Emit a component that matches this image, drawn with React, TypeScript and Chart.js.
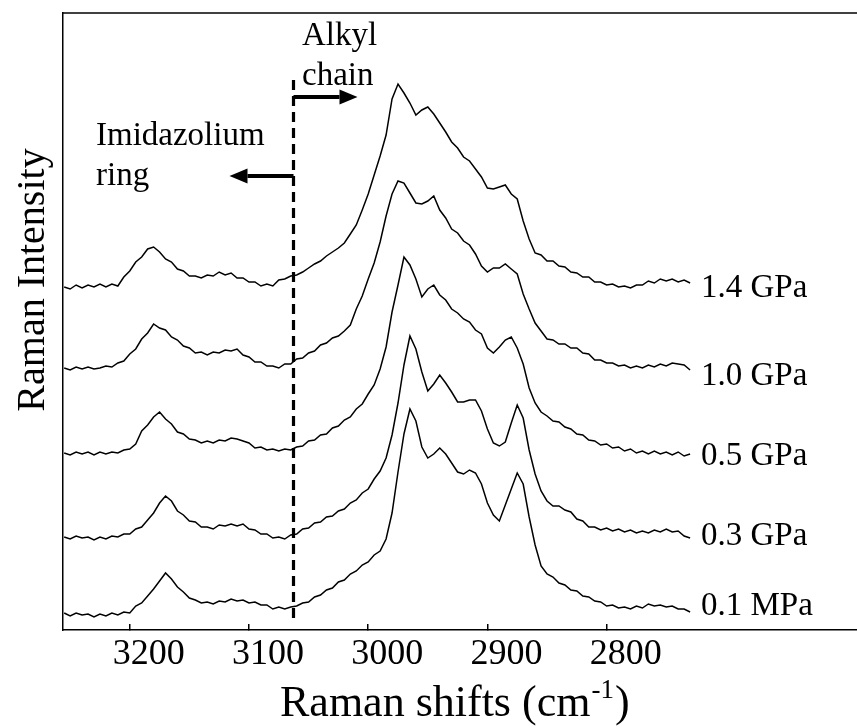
import React, { useEffect, useRef } from "react";
import { Chart, registerables } from "chart.js";

Chart.register(...registerables);

// Raman shift grid (cm-1), shared by every spectrum
const shifts = [
  3255, 3250, 3245, 3240, 3235, 3230, 3225, 3220, 3215, 3210,
  3205, 3200, 3195, 3190, 3185, 3180, 3175, 3170, 3165, 3160,
  3155, 3150, 3145, 3140, 3135, 3130, 3125, 3120, 3115, 3110,
  3105, 3100, 3095, 3090, 3085, 3080, 3075, 3070, 3065, 3060,
  3055, 3050, 3045, 3040, 3035, 3030, 3025, 3020, 3015, 3010,
  3005, 3000, 2995, 2990, 2985, 2980, 2975, 2970, 2965, 2960,
  2955, 2950, 2945, 2940, 2935, 2930, 2925, 2920, 2915, 2910,
  2905, 2900, 2895, 2890, 2885, 2880, 2875, 2870, 2865, 2860,
  2855, 2850, 2845, 2840, 2835, 2830, 2825, 2820, 2815, 2810,
  2805, 2800, 2795, 2790, 2785, 2780, 2775, 2770, 2765, 2760,
  2755, 2750, 2745, 2740, 2735, 2730,
];

// Stacked spectra (arbitrary intensity units, vertically offset)
const intensity14GPa = [
  343, 341, 345, 342, 345, 343, 346, 343, 346, 344,
  353, 359, 368, 373, 381, 383, 378, 371, 368, 361,
  359, 354, 354, 352, 355, 354, 358, 355, 357, 352,
  352, 348, 348, 344, 346, 344, 350, 351, 354, 355,
  358, 362, 366, 369, 374, 378, 382, 387, 396, 405,
  420, 436, 455, 474, 495, 531, 546, 537, 527, 515,
  520, 523, 516, 507, 498, 488, 482, 473, 469, 461,
  453, 442, 441, 443, 445, 436, 431, 409, 391, 377,
  375, 369, 369, 364, 363, 358, 357, 353, 353, 348,
  348, 345, 346, 343, 344, 342, 345, 345, 349, 347,
  351, 349, 351, 348, 350, 347,
];

const intensity10GPa = [
  262, 260, 263, 261, 263, 261, 262, 264, 263, 267,
  269, 276, 281, 291, 297, 306, 302, 300, 293, 290,
  284, 282, 277, 278, 275, 278, 277, 280, 279, 281,
  275, 273, 268, 268, 264, 264, 262, 266, 266, 271,
  272, 277, 279, 285, 287, 292, 294, 299, 305, 321,
  334, 351, 367, 388, 414, 436, 449, 447, 437, 427,
  426, 429, 434, 420, 412, 401, 397, 389, 385, 376,
  364, 358, 362, 362, 366, 361, 356, 336, 321, 307,
  299, 291, 290, 286, 286, 282, 282, 277, 276, 270,
  270, 267, 267, 264, 265, 262, 264, 262, 265, 263,
  266, 264, 267, 266, 265, 260,
];

const intensity05GPa = [
  177, 175, 178, 176, 178, 175, 178, 176, 178, 177,
  180, 181, 186, 199, 205, 213, 218, 211, 206, 198,
  196, 191, 190, 187, 189, 187, 190, 189, 192, 191,
  189, 187, 182, 183, 180, 181, 179, 181, 180, 183,
  184, 189, 190, 195, 196, 202, 204, 210, 213, 221,
  226, 236, 245, 261, 283, 318, 345, 373, 365, 351,
  333, 341, 345, 335, 330, 321, 317, 311, 308, 300,
  296, 282, 277, 283, 290, 293, 282, 266, 242, 227,
  218, 214, 209, 208, 203, 201, 196, 195, 190, 189,
  185, 186, 182, 183, 179, 181, 177, 179, 176, 179,
  176, 178, 175, 178, 174, 176,
];

const intensity03GPa = [
  93, 91, 94, 92, 93, 90, 93, 91, 94, 93,
  96, 96, 101, 103, 110, 117, 127, 134, 129, 119,
  115, 109, 108, 103, 103, 101, 105, 104, 106, 104,
  106, 101, 100, 96, 96, 92, 93, 91, 95, 96,
  101, 102, 107, 108, 113, 114, 119, 121, 127, 130,
  137, 141, 151, 159, 172, 195, 227, 265, 294, 281,
  258, 239, 246, 255, 247, 238, 228, 228, 230, 230,
  219, 201, 187, 184, 188, 207, 225, 212, 180, 156,
  139, 129, 124, 124, 120, 118, 111, 109, 103, 103,
  100, 102, 99, 101, 98, 100, 97, 99, 97, 100,
  98, 101, 98, 99, 94, 92,
];

const intensity01MPa = [
  17, 14, 17, 15, 16, 13, 16, 14, 17, 15,
  18, 17, 24, 27, 34, 41, 49, 57, 51, 43,
  38, 32, 30, 27, 28, 26, 29, 28, 31, 29,
  30, 27, 28, 25, 25, 21, 23, 21, 23, 24,
  27, 28, 33, 35, 40, 42, 48, 50, 56, 59,
  65, 68, 75, 79, 91, 117, 158, 196, 221, 209,
  183, 172, 176, 182, 176, 167, 158, 156, 160, 157,
  146, 127, 115, 109, 125, 141, 157, 146, 113, 85,
  64, 56, 53, 47, 45, 40, 39, 34, 33, 29,
  28, 24, 25, 22, 23, 21, 24, 22, 26, 24,
  25, 23, 24, 21, 21, 18,
];

const seriesValues = [intensity14GPa, intensity10GPa, intensity05GPa, intensity03GPa, intensity01MPa];
const seriesLabels = ["1.4 GPa", "1.0 GPa", "0.5 GPa", "0.3 GPa", "0.1 MPa"];
const tickValues = [3200, 3100, 3000, 2900, 2800];
const dividerShift = 3063;

const SERIF = '"Liberation Serif", "Times New Roman", serif';
const labelBaselines = [297, 385, 465, 545, 615];

function drawArrow(ctx: CanvasRenderingContext2D, x0: number, tip: number, y: number) {
  const dir = tip > x0 ? 1 : -1;
  const headLen = 18;
  const half = 7.5;
  ctx.lineWidth = 4;
  ctx.beginPath();
  ctx.moveTo(x0, y);
  ctx.lineTo(tip - dir * headLen, y);
  ctx.stroke();
  ctx.beginPath();
  ctx.moveTo(tip, y);
  ctx.lineTo(tip - dir * headLen, y - half);
  ctx.lineTo(tip - dir * headLen, y + half);
  ctx.closePath();
  ctx.fill();
}

const overlayPlugin = {
  id: "ramanOverlay",
  afterDraw(chart: any) {
    const { ctx, chartArea, scales } = chart;
    const xs = scales.x;
    ctx.save();
    ctx.strokeStyle = "#000";
    ctx.fillStyle = "#000";

    // top frame line
    ctx.lineWidth = 1.5;
    ctx.beginPath();
    ctx.moveTo(chartArea.left, chartArea.top);
    ctx.lineTo(chartArea.right, chartArea.top);
    ctx.stroke();

    // boundary between ring and alkyl chain regions
    const dx = Math.round(xs.getPixelForValue(dividerShift)) + 0.5;
    ctx.setLineDash([10, 6]);
    ctx.lineWidth = 3.2;
    ctx.beginPath();
    ctx.moveTo(dx, 80);
    ctx.lineTo(dx, 622);
    ctx.stroke();
    ctx.setLineDash([]);

    drawArrow(ctx, dx, dx + 64, 97);
    drawArrow(ctx, dx, dx - 64, 176);

    ctx.textAlign = "left";
    ctx.textBaseline = "alphabetic";
    ctx.font = `33px ${SERIF}`;
    ctx.fillText("Alkyl", 302, 45);
    ctx.fillText("chain", 302, 85);
    ctx.fillText("Imidazolium", 96, 145);
    ctx.fillText("ring", 96, 185);

    seriesLabels.forEach((label, i) => {
      ctx.fillText(label, 701, labelBaselines[i]);
    });

    // y axis title
    ctx.save();
    ctx.translate(44, 280);
    ctx.rotate(-Math.PI / 2);
    ctx.textAlign = "center";
    ctx.font = `40px ${SERIF}`;
    ctx.fillText("Raman Intensity", 0, 0);
    ctx.restore();

    // x axis title with superscript
    ctx.textAlign = "left";
    const base = "Raman shifts (cm";
    ctx.font = `44px ${SERIF}`;
    let x = 280;
    const y = 716;
    ctx.fillText(base, x, y);
    x += ctx.measureText(base).width;
    ctx.font = `27px ${SERIF}`;
    ctx.fillText("-1", x + 1, y - 18);
    x += ctx.measureText("-1").width + 2;
    ctx.font = `44px ${SERIF}`;
    ctx.fillText(")", x, y);

    ctx.restore();
  },
};

export default function App() {
  const canvasRef = useRef<HTMLCanvasElement | null>(null);

  useEffect(() => {
    const canvas = canvasRef.current;
    if (!canvas) return;
    const chart = new Chart(canvas, {
      type: "line",
      data: {
        labels: shifts,
        datasets: seriesValues.map((vals, i) => ({
          label: seriesLabels[i],
          data: vals.map((v, j) => ({ x: shifts[j], y: v })),
          borderColor: "#000",
          borderWidth: 1.5,
          pointRadius: 0,
          tension: 0,
          fill: false,
        })),
      },
      options: {
        animation: false,
        responsive: false,
        maintainAspectRatio: false,
        parsing: false,
        layout: { padding: { top: 13, left: 0, right: 0, bottom: 0 } },
        plugins: {
          legend: { display: false },
          tooltip: { enabled: false },
        },
        scales: {
          x: {
            type: "linear",
            min: 2590,
            max: 3256,
            reverse: true,
            afterBuildTicks: (scale: any) => {
              scale.ticks = tickValues.map((v) => ({ value: v }));
            },
            afterFit: (scale: any) => {
              scale.height = 98;
            },
            grid: {
              display: true,
              drawOnChartArea: false,
              drawTicks: true,
              tickLength: -6,
              color: "#000",
              lineWidth: 1.5,
            },
            border: { display: true, color: "#000", width: 1.5 },
            ticks: {
              color: "#000",
              font: { family: SERIF, size: 36 },
              padding: 9,
              labelOffset: 19,
              maxRotation: 0,
              autoSkip: false,
              callback: (v: any) => String(v),
            },
          },
          y: {
            type: "linear",
            min: 0,
            max: 617,
            afterFit: (scale: any) => {
              scale.width = 63;
            },
            ticks: { display: false },
            grid: { display: false },
            border: { display: true, color: "#000", width: 1.5 },
          },
        },
      },
      plugins: [overlayPlugin],
    } as any);
    return () => chart.destroy();
  }, []);

  return (
    <div style={{ position: "fixed", left: 0, top: 0, width: 857, height: 728, background: "#fff" }}>
      <canvas ref={canvasRef} width={857} height={728} style={{ display: "block", width: 857, height: 728 }} />
    </div>
  );
}
